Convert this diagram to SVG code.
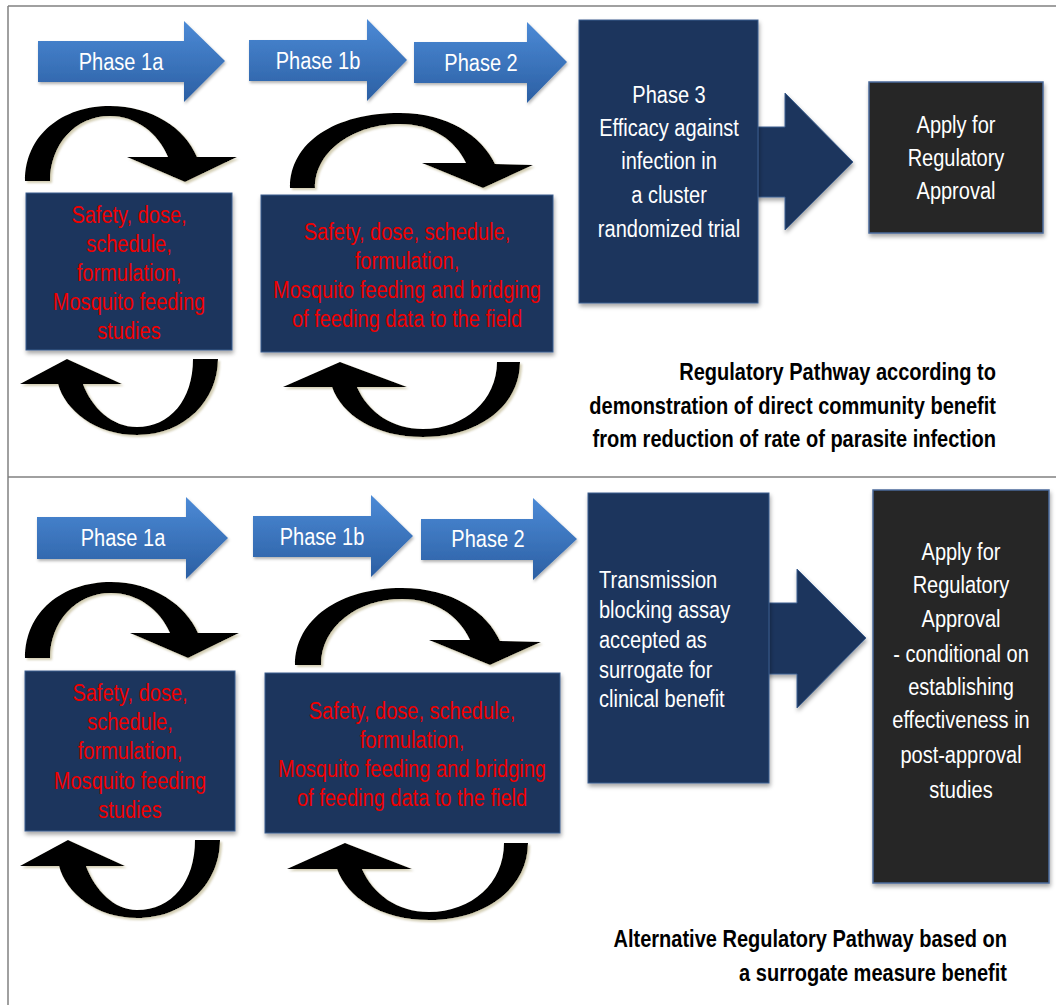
<svg xmlns="http://www.w3.org/2000/svg" width="1056" height="1005" viewBox="0 0 1056 1005">
<defs>
<linearGradient id="blueGrad" x1="0" y1="0" x2="0" y2="1">
<stop offset="0" stop-color="#4C8AD6"/>
<stop offset="1" stop-color="#2B5FA3"/>
</linearGradient>
<filter id="boxShadow" x="-10%" y="-10%" width="120%" height="125%">
<feDropShadow dx="1" dy="3" stdDeviation="2" flood-color="#000" flood-opacity="0.35"/>
</filter>
<filter id="curveShadow" x="-10%" y="-10%" width="120%" height="125%">
<feDropShadow dx="2" dy="2" stdDeviation="0.8" flood-color="#cfc9ac" flood-opacity="0.9"/>
</filter>
<filter id="phaseShadow" x="-10%" y="-10%" width="120%" height="125%">
<feDropShadow dx="1" dy="2" stdDeviation="1.5" flood-color="#000" flood-opacity="0.3"/>
</filter>
</defs>
<style>
.frame{stroke:#808080;stroke-width:1.5;fill:none}
.phase{fill:url(#blueGrad);filter:url(#phaseShadow)}
.navy{fill:#1B365D;stroke:#3D5F8F;stroke-width:1;filter:url(#boxShadow)}
.navyArrow{fill:#1B365D;stroke:#3D5F8F;stroke-width:1;filter:url(#boxShadow)}
.dark{fill:#262626;stroke:#4A6A9A;stroke-width:1.5;filter:url(#boxShadow)}
.curve{fill:#000;filter:url(#curveShadow)}
text{font-family:"Liberation Sans",Arial,sans-serif;font-size:23px}
.w{fill:#fff;text-anchor:middle}
.wl{fill:#fff;text-anchor:start}
.r{fill:#F00000;text-anchor:middle}
.cap{fill:#000;font-weight:bold;text-anchor:end}
</style>
<rect x="0" y="0" width="1056" height="1005" fill="#fff"/>
<g id="frame">
<line class="frame" x1="8" y1="6" x2="1056" y2="6"/>
<line class="frame" x1="8" y1="6" x2="8" y2="1005"/>
<line class="frame" x1="8" y1="477" x2="1056" y2="477"/>
</g>
<g id="connectors">
<!-- top panel -->
<path class="curve" d="M25,181 C25,135 62,106 110,106 C152,106 185,128 197,157 L237,157 L185,182 L127,157 L168,157 C158,133 136,116 110,116 C75,116 50,145 50,181 Z"/>
<path class="curve" d="M193,359 L218,359 C218,400 185,435 137,435 C95,435 65,410 58,384 L20,384 L67,359 L122,384 L83,384 C92,408 112,427 137,427 C170,427 193,400 193,359 Z"/>
<path class="curve" d="M290,188 C290,142 335,113 400,113 C448,113 482,136 495,164 L533,165 L483,188 L422,163 L466,163 C455,140 432,124 400,124 C355,124 315,150 315,188 Z"/>
<path class="curve" d="M497,362 L520,362 C520,405 480,437 423,437 C375,437 342,415 332,387 L283,387 L340,362 L407,387 L357,387 C368,412 392,429 423,429 C465,429 497,400 497,362 Z"/>
<path class="navyArrow" d="M740,127 L785,127 L785,93 L853,162 L785,230 L785,197 L740,197 Z"/>
<!-- bottom panel -->
<path class="curve" d="M25,658 C25,612 62,582 111,582 C153,582 186,605 198,633 L239,633 L188,658 L130,633 L170,633 C160,610 138,593 111,593 C76,593 50,622 50,658 Z"/>
<path class="curve" d="M195,840 L220,840 C220,882 187,918 137,918 C96,918 66,893 59,866 L20,866 L68,840 L125,866 L86,866 C95,890 114,910 137,910 C172,910 195,882 195,840 Z"/>
<path class="curve" d="M295,665 C295,619 340,588 402,588 C452,588 487,612 500,641 L541,642 L490,665 L429,640 L470,640 C459,616 435,599 402,599 C358,599 321,626 321,665 Z"/>
<path class="curve" d="M504,843 L528,843 C528,887 487,920 429,920 C380,920 347,897 337,869 L287,869 L345,843 L412,869 L362,869 C373,894 397,912 429,912 C472,912 504,883 504,843 Z"/>
<path class="navyArrow" d="M750,603 L797,603 L797,569 L866,638 L797,708 L797,674 L750,674 Z"/>
</g>
<!-- top panel nodes -->
<g id="phase1a-top">
<polygon class="phase" points="38,41 184,41 184,21 225,61 184,102 184,82 38,82"/>
<text class="w" transform="translate(121,0) scale(0.87,1)" x="0" y="70">Phase 1a</text>
</g>
<g id="phase1b-top">
<polygon class="phase" points="249,40 367,40 367,19 407,60 367,101 367,81 249,81"/>
<text class="w" transform="translate(318,0) scale(0.87,1)" x="0" y="69">Phase 1b</text>
</g>
<g id="phase2-top">
<polygon class="phase" points="414,42 527,42 527,22 567,62 527,103 527,83 414,83"/>
<text class="w" transform="translate(481,0) scale(0.87,1)" x="0" y="71">Phase 2</text>
</g>
<g id="box1a-top">
<rect class="navy" x="26" y="193" width="206" height="157" stroke="none"/>
<text class="r" transform="translate(129,0) scale(0.87,1)"><tspan x="0" y="223">Safety, dose,</tspan><tspan x="0" y="252">schedule,</tspan><tspan x="0" y="281">formulation,</tspan><tspan x="0" y="310">Mosquito feeding</tspan><tspan x="0" y="339">studies</tspan></text>
</g>
<g id="box1b-top">
<rect class="navy" x="261" y="195" width="292" height="157" stroke="none"/>
<text class="r" transform="translate(407,0) scale(0.87,1)"><tspan x="0" y="240">Safety, dose, schedule,</tspan><tspan x="0" y="269">formulation,</tspan><tspan x="0" y="298">Mosquito feeding and bridging</tspan><tspan x="0" y="327">of feeding data to the field</tspan></text>
</g>
<g id="phase3">
<rect class="navy" x="579" y="20" width="179" height="283"/>
<text class="w" transform="translate(669,0) scale(0.87,1)"><tspan x="0" y="103">Phase 3</tspan><tspan x="0" y="136">Efficacy against</tspan><tspan x="0" y="169">infection in</tspan><tspan x="0" y="203">a cluster</tspan><tspan x="0" y="237">randomized trial</tspan></text>
</g>
<g id="apply-top">
<rect class="dark" x="869" y="82" width="174" height="151"/>
<text class="w" transform="translate(956,0) scale(0.87,1)"><tspan x="0" y="133">Apply for</tspan><tspan x="0" y="166">Regulatory</tspan><tspan x="0" y="199">Approval</tspan></text>
</g>
<g id="caption-top">
<text class="cap" transform="translate(996,0) scale(0.87,1)"><tspan x="0" y="380">Regulatory Pathway according to</tspan><tspan x="0" y="414">demonstration of direct community benefit</tspan><tspan x="0" y="447">from reduction of rate of parasite infection</tspan></text>
</g>
<!-- bottom panel nodes -->
<g id="phase1a-bottom">
<polygon class="phase" points="37,517 186,517 186,497 228,538 186,579 186,559 37,559"/>
<text class="w" transform="translate(123,0) scale(0.87,1)" x="0" y="546">Phase 1a</text>
</g>
<g id="phase1b-bottom">
<polygon class="phase" points="253,516 371,516 371,495 413,536 371,577 371,557 253,557"/>
<text class="w" transform="translate(322,0) scale(0.87,1)" x="0" y="545">Phase 1b</text>
</g>
<g id="phase2-bottom">
<polygon class="phase" points="421,519 533,519 533,498 577,539 533,580 533,560 421,560"/>
<text class="w" transform="translate(488,0) scale(0.87,1)" x="0" y="547">Phase 2</text>
</g>
<g id="box1a-bottom">
<rect class="navy" x="25" y="671" width="210" height="160" stroke="none"/>
<text class="r" transform="translate(130,0) scale(0.87,1)"><tspan x="0" y="701">Safety, dose,</tspan><tspan x="0" y="730">schedule,</tspan><tspan x="0" y="759">formulation,</tspan><tspan x="0" y="789">Mosquito feeding</tspan><tspan x="0" y="818">studies</tspan></text>
</g>
<g id="box1b-bottom">
<rect class="navy" x="265" y="673" width="295" height="160" stroke="none"/>
<text class="r" transform="translate(412,0) scale(0.87,1)"><tspan x="0" y="719">Safety, dose, schedule,</tspan><tspan x="0" y="748">formulation,</tspan><tspan x="0" y="777">Mosquito feeding and bridging</tspan><tspan x="0" y="806">of feeding data to the field</tspan></text>
</g>
<g id="transmission">
<rect class="navy" x="588" y="493" width="181" height="290"/>
<text class="wl" transform="translate(599,0) scale(0.87,1)"><tspan x="0" y="588">Transmission</tspan><tspan x="0" y="618">blocking assay</tspan><tspan x="0" y="648">accepted as</tspan><tspan x="0" y="678">surrogate for</tspan><tspan x="0" y="707">clinical benefit</tspan></text>
</g>
<g id="apply-bottom">
<rect class="dark" x="873" y="490" width="176" height="393"/>
<text class="w" transform="translate(961,0) scale(0.87,1)"><tspan x="0" y="560">Apply for</tspan><tspan x="0" y="593">Regulatory</tspan><tspan x="0" y="627">Approval</tspan><tspan x="0" y="662">- conditional on</tspan><tspan x="0" y="695">establishing</tspan><tspan x="0" y="728">effectiveness in</tspan><tspan x="0" y="763">post-approval</tspan><tspan x="0" y="798">studies</tspan></text>
</g>
<g id="caption-bottom">
<text class="cap" transform="translate(1007,0) scale(0.87,1)"><tspan x="0" y="947">Alternative Regulatory Pathway based on</tspan><tspan x="0" y="981">a surrogate measure benefit</tspan></text>
</g>
</svg>
